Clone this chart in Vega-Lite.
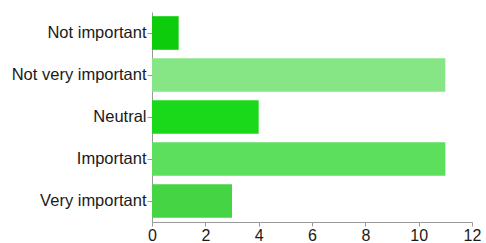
{
  "$schema": "https://vega.github.io/schema/vega-lite/v6.json",
  "width": 320,
  "height": 210,
  "autosize": {"type": "none"},
  "padding": {"left": 152, "top": 12, "right": 14, "bottom": 21},
  "background": "white",
  "config": {"view": {"stroke": null}, "font": "Liberation Sans"},
  "data": {"values": [
    {"answer": "Not important", "count": 1, "color": "#0ccc0c"},
    {"answer": "Not very important", "count": 11, "color": "#86e686"},
    {"answer": "Neutral", "count": 4, "color": "#1ad81a"},
    {"answer": "Important", "count": 11, "color": "#5cdf5c"},
    {"answer": "Very important", "count": 3, "color": "#44d444"}
  ]},
  "mark": {"type": "bar"},
  "encoding": {
    "y": {"field": "answer", "type": "nominal", "sort": null,
      "scale": {"paddingInner": 0.2, "paddingOuter": 0.1},
      "axis": {"title": null, "labelFontSize": 16.5, "labelColor": "#1a1a1a", "tickSize": 5, "labelPadding": 1, "domainColor": "#999", "tickColor": "#999"}},
    "x": {"field": "count", "type": "quantitative",
      "scale": {"domain": [0, 12], "nice": false},
      "axis": {"title": null, "values": [0, 2, 4, 6, 8, 10, 12], "grid": false, "labelFontSize": 16, "labelColor": "#1a1a1a", "tickSize": 4, "labelPadding": 1, "domainColor": "#999", "tickColor": "#999", "labelFlush": false}},
    "color": {"field": "color", "type": "nominal", "scale": null}
  }
}
